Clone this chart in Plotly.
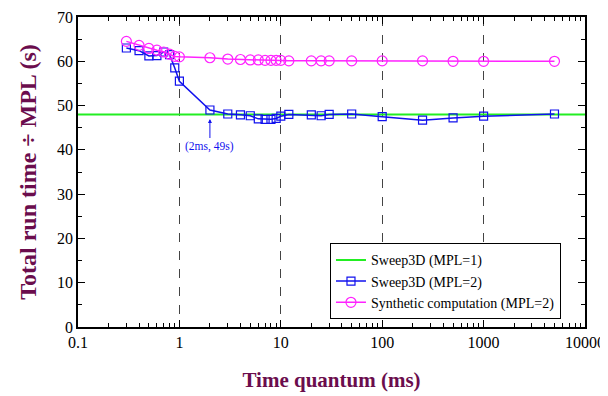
import plotly.graph_objects as go
import math

# ---- data ----
x_range = [0.1, 10000]
mpl1_value = 48.0

sweep_x = [0.3, 0.4, 0.5, 0.6, 0.7, 0.8, 0.9, 1, 2, 3, 4, 5, 6, 7, 8, 9, 10, 12,
           20, 25, 30, 50, 100, 250, 500, 1000, 5000]
sweep_y = [63.0, 62.4, 61.2, 61.3, 62.1, 61.5, 58.5, 55.5, 49.0, 48.1, 47.9, 47.7,
           47.0, 46.9, 46.9, 47.1, 47.6, 48.0, 47.9, 47.7, 48.0, 48.1, 47.5, 46.7,
           47.2, 47.6, 48.1]

synth_x = [0.3, 0.4, 0.5, 0.6, 0.7, 0.8, 0.9, 1, 2, 3, 4, 5, 6, 7, 8, 9, 10, 12,
           20, 25, 30, 50, 100, 250, 500, 1000, 5000]
synth_y = [64.5, 63.6, 62.9, 62.5, 62.1, 61.6, 61.1, 61.0, 60.8, 60.5, 60.4, 60.3,
           60.3, 60.2, 60.2, 60.2, 60.2, 60.1, 60.1, 60.1, 60.1, 60.1, 60.1, 60.1,
           60.0, 60.0, 60.0]

x_ticks = [0.1, 1, 10, 100, 1000, 10000]
x_tick_labels = ["0.1", "1", "10", "100", "1000", "10000"]
x_minor_ticks = [m * d for d in [0.1, 1, 10, 100, 1000] for m in range(2, 10)]

FONT = "Liberation Serif"
TITLE_COLOR = "#6b0d4d"

fig = go.Figure()
fig.add_trace(go.Scatter(
    x=x_range, y=[mpl1_value, mpl1_value], mode="lines",
    line=dict(color="#22ee22", width=2), name="Sweep3D (MPL=1)"))
fig.add_trace(go.Scatter(
    x=sweep_x, y=sweep_y, mode="lines+markers",
    line=dict(color="#1111ee", width=1.5),
    marker=dict(symbol="square-open", size=8, color="#1111ee", line=dict(width=1.2)),
    name="Sweep3D (MPL=2)"))
fig.add_trace(go.Scatter(
    x=synth_x, y=synth_y, mode="lines+markers",
    line=dict(color="#ff22ff", width=1.5),
    marker=dict(symbol="circle-open", size=10, color="#ff22ff", line=dict(width=1.2)),
    name="Synthetic computation (MPL=2)"))
# invisible trace anchoring the minor-tick axis
fig.add_trace(go.Scatter(
    x=x_range, y=[mpl1_value, mpl1_value], mode="lines", xaxis="x2",
    line=dict(color="rgba(0,0,0,0)", width=0), showlegend=False, hoverinfo="skip"))

fig.add_annotation(
    x=math.log10(2), y=49, xref="x", yref="y",
    text="(2ms, 49s)", showarrow=True, arrowhead=2, arrowsize=0.8, arrowwidth=1,
    arrowcolor="#1111ee", ax=0, ay=36, standoff=9,
    font=dict(family=FONT, size=11.5, color="#1111ee"))

xr = [math.log10(x_range[0]), math.log10(x_range[1])]
fig.update_layout(
    xaxis=dict(
        type="log", range=xr,
        tickmode="array", tickvals=x_ticks, ticktext=x_tick_labels,
        ticks="inside", ticklen=7, tickcolor="black", mirror="ticks",
        showline=True, linecolor="black", linewidth=1.5,
        showgrid=True, gridcolor="#444444", griddash="dash", gridwidth=1,
        tickfont=dict(family=FONT, size=16, color="black"),
        ticklabeloverflow="allow",
        title=dict(text="<b>Time quantum (ms)</b>", font=dict(family=FONT, size=21, color=TITLE_COLOR), standoff=22),
        zeroline=False, automargin=False),
    xaxis2=dict(
        type="log", range=xr, overlaying="x", anchor="y", side="bottom",
        tickmode="array", tickvals=x_minor_ticks, showticklabels=False,
        ticks="inside", ticklen=4, tickcolor="black", mirror="ticks",
        showline=False, showgrid=False, zeroline=False, automargin=False),
    yaxis=dict(
        range=[0, 70], tickmode="linear", tick0=0, dtick=10,
        ticks="inside", ticklen=7, tickcolor="black", mirror="ticks",
        showline=True, linecolor="black", linewidth=1.5,
        showgrid=False,
        minor=dict(ticks="inside", ticklen=4, dtick=5, tickcolor="black", showgrid=False),
        tickfont=dict(family=FONT, size=16, color="black"),
        ticklabeloverflow="allow",
        title=dict(text="<b>Total run time ÷ MPL (s)</b>", font=dict(family=FONT, size=24, color=TITLE_COLOR), standoff=14),
        zeroline=False, automargin=False),
    width=600, height=388,
    margin=dict(l=70, r=23, t=9, b=69),
    plot_bgcolor="white", paper_bgcolor="white",
    showlegend=True,
    legend=dict(x=0.497, y=0.27, xanchor="left", yanchor="top",
                bgcolor="white", bordercolor="black", borderwidth=1,
                font=dict(family=FONT, size=14, color="black"),
                tracegroupgap=0, itemwidth=30))

fig.write_html("out.html")
